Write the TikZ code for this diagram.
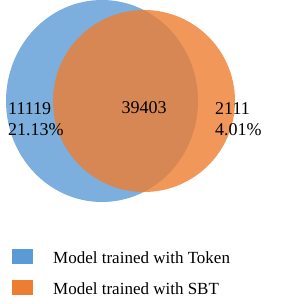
\documentclass[tikz,border=0pt]{standalone}
\usepackage{fontspec}
\setmainfont{Liberation Serif}
\definecolor{tokenblue}{HTML}{5B9BD5}
\definecolor{sbtorange}{HTML}{ED7D31}
\tikzset{
  setfill/.style={fill=#1, fill opacity=0.8, draw=none},
  count/.style={inner sep=0pt, font=\fontsize{18}{21}\selectfont, align=left},
  legendbox/.style={fill=#1, draw=none},
  legendtext/.style={inner sep=0pt, anchor=base west, font=\fontsize{17}{20}\selectfont}
}
\begin{document}
\begin{tikzpicture}[x=1pt, y=-1pt]
\useasboundingbox (0,0) rectangle (299,304);
\fill[setfill=tokenblue] (102,101) ellipse (96 and 101);
\fill[setfill=sbtorange] (144,101) circle (91);
\node[count, anchor=west] (onlytoken) at (8,119) {11119\\21.13\%};
\node[count, anchor=base] (both) at (144,114) {39403};
\node[count, anchor=west] (onlysbt) at (215,119) {2111\\4.01\%};
\fill[legendbox=tokenblue] (12,249) rectangle (33,264);
\node[legendtext] (tokenlabel) at (53,263) {Model trained with Token};
\fill[legendbox=sbtorange] (12,280) rectangle (33,295);
\node[legendtext] (sbtlabel) at (53,294) {Model trained with SBT};
\end{tikzpicture}
\end{document}
